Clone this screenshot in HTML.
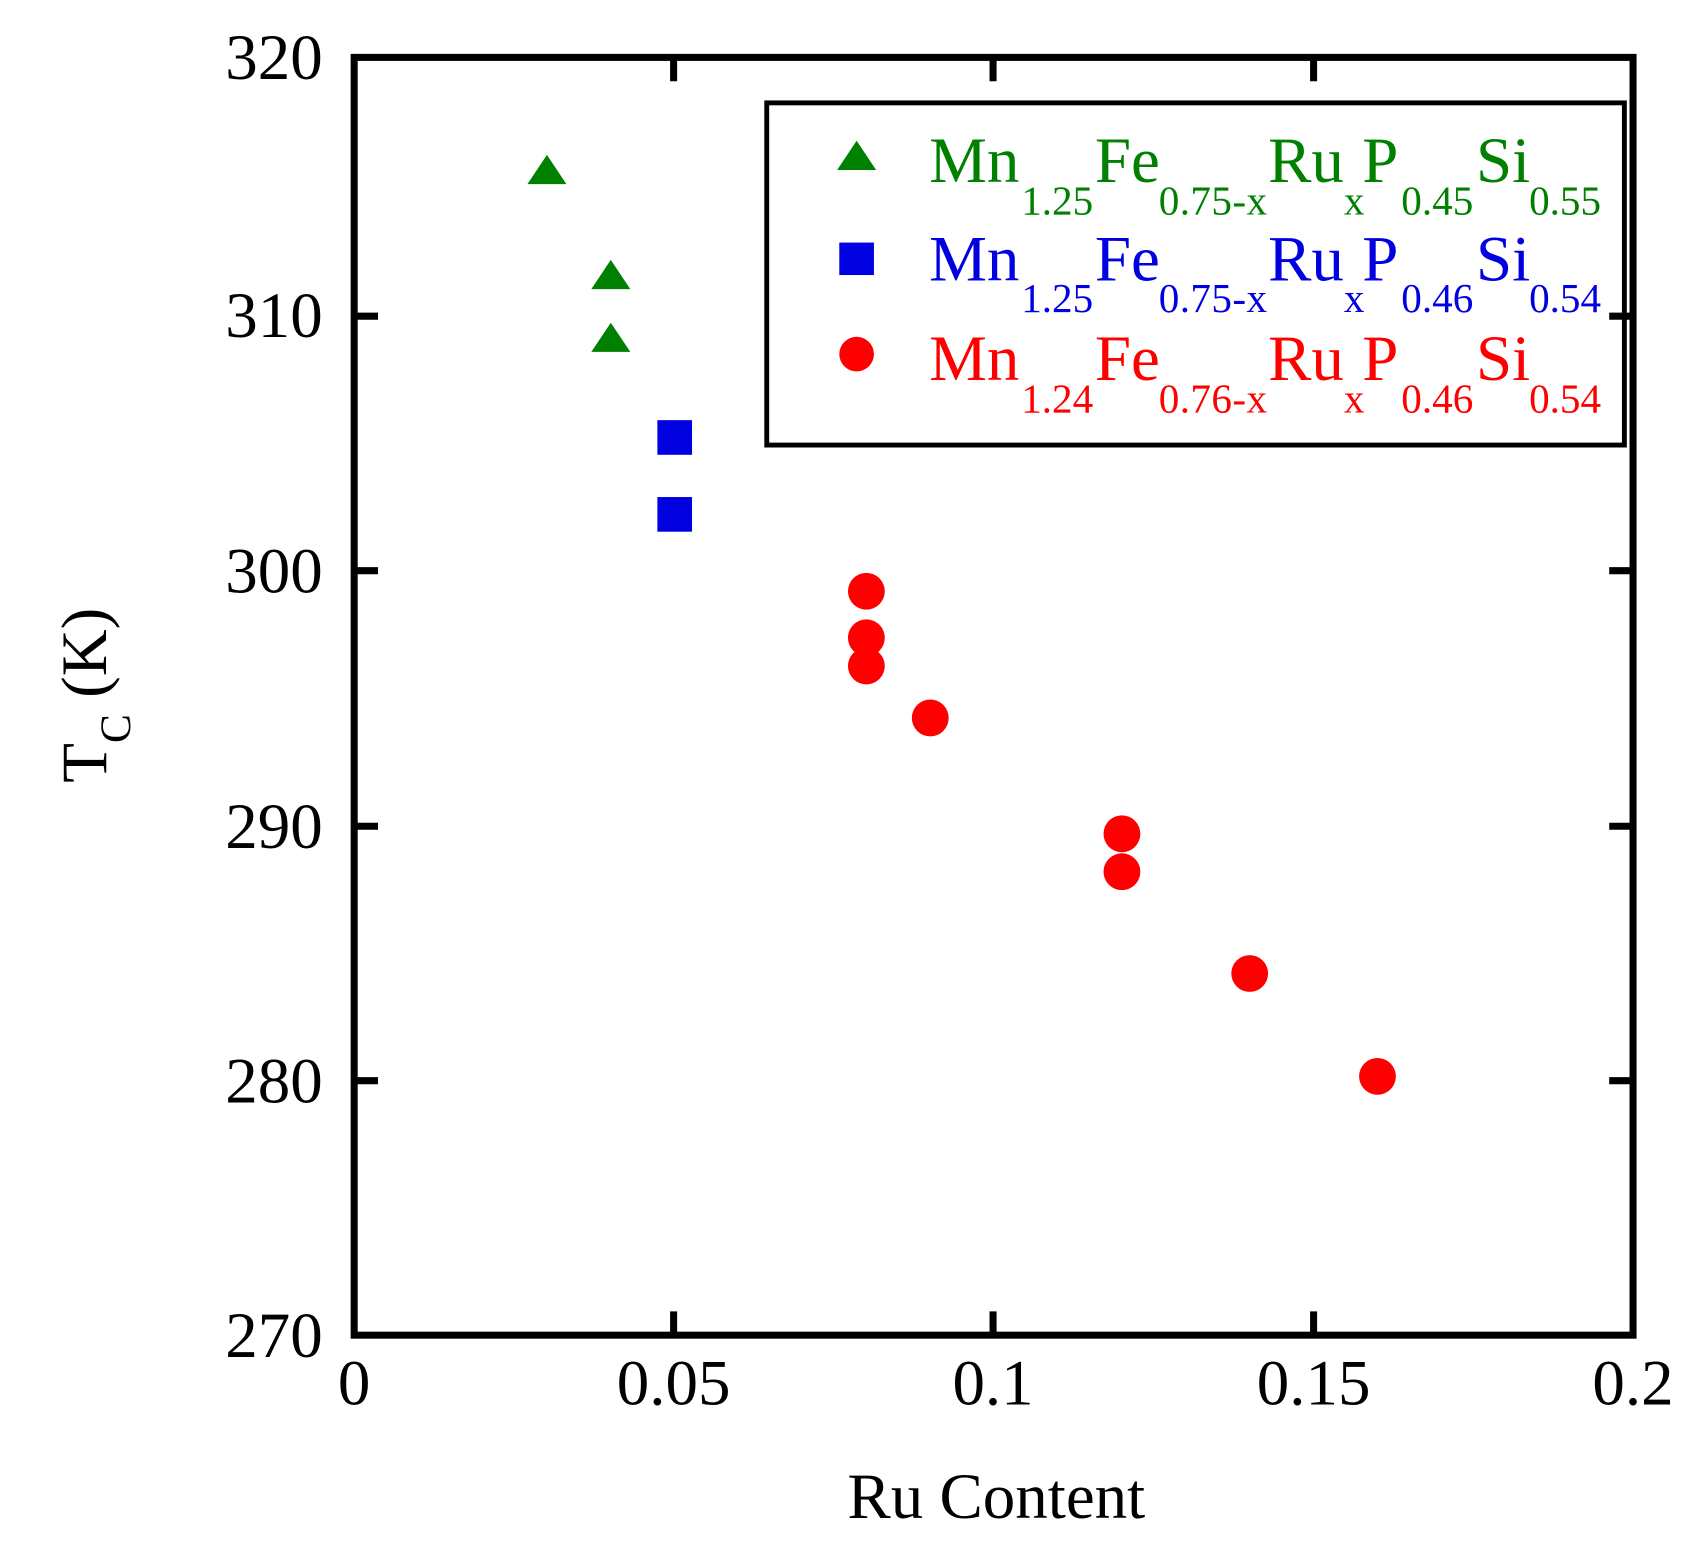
<!DOCTYPE html>
<html><head><style>html,body{margin:0;padding:0;background:#fff;}svg{display:block}</style></head>
<body>
<svg width="1697" height="1555" viewBox="0 0 1567 1436" xmlns="http://www.w3.org/2000/svg" font-family="Liberation Serif, serif">
<rect x="0" y="0" width="1567" height="1436" fill="#fff"/>
<g stroke="#000" stroke-width="6.5" fill="none">
<rect x="327" y="53" width="1181" height="1180"/>
<path d="M622 1233v-22M917 1233v-22M1213 1233v-22M622 53v22M917 53v22M1213 53v22"/>
<path d="M327 292h22M327 527h22M327 763h22M327 998h22M1508 292h-22M1508 527h-22M1508 763h-22M1508 998h-22"/>
<rect x="708" y="95" width="792" height="316" stroke-width="4.5"/>
</g>
<g font-size="60" text-anchor="end" fill="#000">
<text x="298" y="73">320</text><text x="298" y="311">310</text><text x="298" y="547">300</text>
<text x="298" y="783">290</text><text x="298" y="1018">280</text><text x="298" y="1253">270</text>
</g>
<g font-size="60" text-anchor="middle" fill="#000">
<text x="327" y="1297">0</text><text x="622" y="1297">0.05</text><text x="917" y="1297">0.1</text>
<text x="1213" y="1297">0.15</text><text x="1508" y="1297">0.2</text>
<text x="920" y="1402" font-size="60">Ru Content</text>
</g>
<text transform="translate(98,642) rotate(-90)" text-anchor="middle" font-size="60" fill="#000">T<tspan font-size="40" dy="22">C</tspan><tspan dy="-22"> (K)</tspan></text>
<g fill="#008000">
<polygon points="505,143 487,170 523,170"/><polygon points="564,240 546,267 582,267"/><polygon points="564,298 546,325 582,325"/>
<polygon points="791,130 773,157 809,157"/>
</g>
<g fill="#0000e0">
<rect x="607" y="388" width="32" height="32"/><rect x="607" y="459" width="32" height="32"/>
<rect x="775" y="224" width="32" height="30"/>
</g>
<g fill="#ff0000">
<circle cx="800" cy="546" r="17"/><circle cx="800" cy="589" r="17"/><circle cx="800" cy="615" r="17"/>
<circle cx="859" cy="663" r="17"/><circle cx="1036" cy="770" r="17"/><circle cx="1036" cy="805" r="17"/>
<circle cx="1154" cy="899" r="17"/><circle cx="1272" cy="994" r="17"/>
<circle cx="791" cy="327" r="16"/>
</g>
<g font-size="60">
<g fill="#008000"><text x="858" y="168">Mn</text><text x="1011" y="168">Fe</text><text x="1171" y="168">Ru</text><text x="1258" y="168">P</text><text x="1363" y="168">Si</text></g>
<g fill="#0000e0"><text x="858" y="259">Mn</text><text x="1011" y="259">Fe</text><text x="1171" y="259">Ru</text><text x="1258" y="259">P</text><text x="1363" y="259">Si</text></g>
<g fill="#ff0000"><text x="858" y="351">Mn</text><text x="1011" y="351">Fe</text><text x="1171" y="351">Ru</text><text x="1258" y="351">P</text><text x="1363" y="351">Si</text></g>
</g>
<g font-size="38">
<g fill="#008000"><text x="943" y="198">1.25</text><text x="1070" y="198" textLength="100">0.75-x</text><text x="1241" y="198">x</text><text x="1294" y="198">0.45</text><text x="1412" y="198">0.55</text></g>
<g fill="#0000e0"><text x="943" y="288">1.25</text><text x="1070" y="288" textLength="100">0.75-x</text><text x="1241" y="288">x</text><text x="1294" y="288">0.46</text><text x="1412" y="288">0.54</text></g>
<g fill="#ff0000"><text x="943" y="381">1.24</text><text x="1070" y="381" textLength="100">0.76-x</text><text x="1241" y="381">x</text><text x="1294" y="381">0.46</text><text x="1412" y="381">0.54</text></g>
</g>
</svg>
</body></html>
